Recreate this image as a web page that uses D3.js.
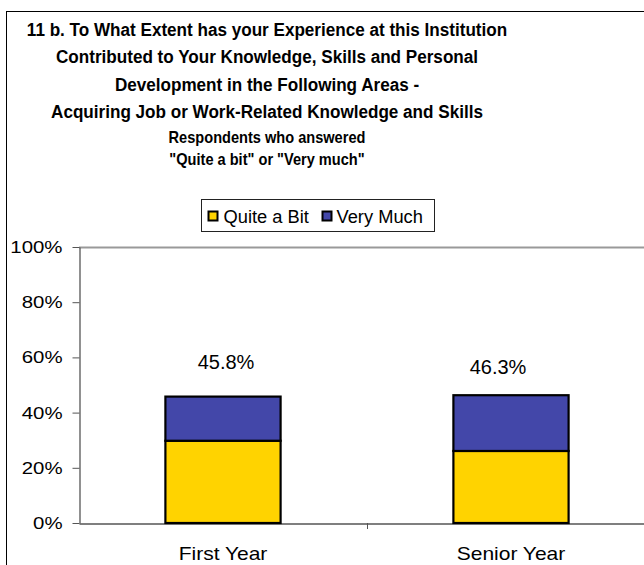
<!DOCTYPE html>
<html><head><meta charset="utf-8">
<script src="https://cdn.jsdelivr.net/npm/d3@7"></script>
<style>body{margin:0;background:#fff}svg{display:block;font-family:Arial,"Liberation Sans",sans-serif}</style>
</head><body><svg id="c" width="644" height="565"></svg>
<script>
const categories = ["First Year", "Senior Year"];
const seriesNames = ["Quite a Bit", "Very Much"];
const quiteABit = [29.8, 26.1];
const veryMuch = [16.0, 20.2];
const totals = [45.8, 46.3];
const yTicks = [0, 20, 40, 60, 80, 100];
const titleLines = ["11 b. To What Extent has your Experience at this Institution",
  "Contributed to Your Knowledge, Skills and Personal",
  "Development in the Following Areas -",
  "Acquiring Job or Work-Related Knowledge and Skills"];
const subtitleLines = ["Respondents who answered", "\"Quite a bit\" or \"Very much\""];
const colors = ["#FFD300", "#4347A9"];

(function () {
const svg = d3.select("#c");
const FONT = "Arial, 'Liberation Sans', sans-serif";
// outer frame
svg.append("rect").attr("x", 6.5).attr("y", 11.5).attr("width", 700).attr("height", 600)
  .attr("fill", "#fff").attr("stroke", "#000").attr("stroke-width", 1);

// title (slightly condensed as in the reference)
svg.append("g").attr("transform", "translate(267,0) scale(0.915,1)")
  .selectAll("text").data(titleLines).join("text")
  .attr("x", 0).attr("y", (d, i) => 36 + i * 27.3)
  .attr("text-anchor", "middle").attr("font-weight", "bold").attr("font-size", 18.7)
  .attr("fill", "#000").text(d => d);
svg.append("g").attr("transform", "translate(267,0) scale(0.9,1)")
  .selectAll("text").data(subtitleLines).join("text")
  .attr("x", 0).attr("y", (d, i) => 143 + i * 22)
  .attr("text-anchor", "middle").attr("font-weight", "bold").attr("font-size", 16.2)
  .attr("fill", "#000").text(d => d);

const mLeft = 79, mTop = 247, mBottom = 523;
const x = d3.scaleBand().domain(categories).range([mLeft, mLeft + 576]).paddingInner(0).paddingOuter(0);
const y = d3.scaleLinear().domain([0, 100]).range([mBottom, mTop]);

// plot top border (gray)
svg.append("line").attr("x1", mLeft).attr("x2", 660).attr("y1", y(100) + 0.5).attr("y2", y(100) + 0.5)
  .attr("stroke", "#999").attr("stroke-width", 2);

// y axis
const yAxis = svg.append("g").attr("transform", `translate(${mLeft + 0.5},0)`)
  .call(d3.axisLeft(y).tickValues(yTicks).tickFormat(d => d + "%").tickSize(7).tickSizeOuter(0));
yAxis.select(".domain").attr("stroke", "#555").attr("stroke-width", 1.3);
yAxis.selectAll(".tick line").attr("stroke", "#555");
yAxis.selectAll(".tick text").attr("font-size", 17).attr("fill", "#000")
  .attr("x", -17 / 1.2).attr("transform", "scale(1.2,1)")
  .attr("font-family", FONT);

// x axis
const xAxis = svg.append("g").attr("transform", `translate(0,${mBottom + 0.5})`)
  .call(d3.axisBottom(x).tickSize(0).tickSizeOuter(0));
xAxis.select(".domain").attr("stroke", "#555").attr("stroke-width", 1.3);
xAxis.selectAll(".tick text").attr("font-size", 18.6).attr("fill", "#000").attr("dy", 0).attr("y", 37)
  .attr("transform", "scale(1.13,1)")
  .attr("font-family", FONT);
// category separator ticks
svg.append("g").selectAll("line").data(categories.slice(1)).join("line")
  .attr("x1", d => x(d) + 0.5).attr("x2", d => x(d) + 0.5)
  .attr("y1", mBottom).attr("y2", mBottom + 6).attr("stroke", "#555");

// stacked bars
const rows = categories.map((c, i) => ({cat: c, "Quite a Bit": quiteABit[i], "Very Much": veryMuch[i]}));
const stack = d3.stack().keys(seriesNames)(rows);
const bw = x.bandwidth() * 0.4;
svg.append("g").selectAll("g").data(stack).join("g").attr("fill", (d, i) => colors[i])
  .selectAll("rect").data(d => d).join("rect")
  .attr("x", d => x(d.data.cat) + (x.bandwidth() - bw) / 2)
  .attr("y", d => y(d[1]))
  .attr("width", bw)
  .attr("height", d => y(d[0]) - y(d[1]))
  .attr("stroke", "#000").attr("stroke-width", 2.2);

// total labels
const labelDx = [3, -13], labelDy = [-28, -21];
svg.append("g").selectAll("text").data(categories).join("text")
  .attr("x", (d, i) => x(d) + x.bandwidth() / 2 + labelDx[i])
  .attr("y", (d, i) => y(totals[i]) + labelDy[i])
  .attr("text-anchor", "middle").attr("font-size", 20).attr("fill", "#000")
  .text((d, i) => totals[i].toFixed(1) + "%");

// legend
const lg = svg.append("g").attr("transform", "translate(201.5,199.5)");
lg.append("rect").attr("width", 233).attr("height", 32).attr("fill", "#fff").attr("stroke", "#222");
const items = [{name: seriesNames[0], x: 7, tx: 22}, {name: seriesNames[1], x: 121, tx: 135}];
items.forEach((it, i) => {
  lg.append("rect").attr("x", it.x).attr("y", 12).attr("width", 9).attr("height", 9)
    .attr("fill", colors[i]).attr("stroke", "#000").attr("stroke-width", 2);
  lg.append("text").attr("x", it.tx).attr("y", 23).attr("font-size", 18.3).attr("fill", "#000").text(it.name);
});
})();
</script></body></html>
